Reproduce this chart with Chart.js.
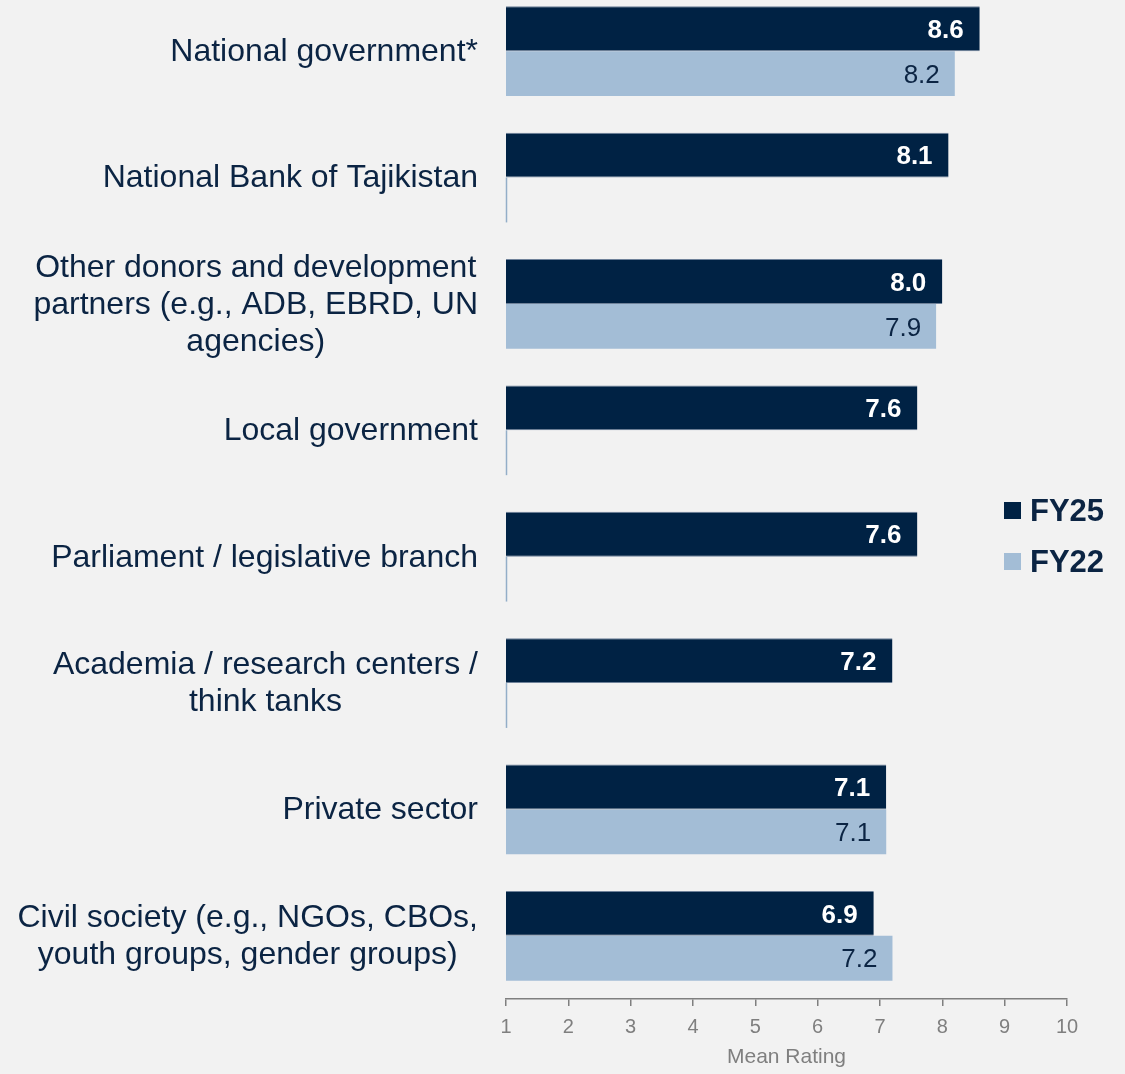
<!DOCTYPE html>
<html>
<head>
<meta charset="utf-8">
<script src="https://cdn.jsdelivr.net/npm/chart.js@4/dist/chart.umd.min.js"></script>
<style>
  html, body { margin: 0; padding: 0; background: #f2f2f2; overflow: hidden; }
  body { width: 1125px; height: 1074px; position: relative; font-family: "Liberation Sans", Arial, sans-serif; }
  #wrap { position: absolute; left: 0; top: -12px; width: 1125px; height: 1086px; }
  .legend { position: absolute; left: 1004px; color: #0b2443; font-weight: bold; font-size: 31px; line-height: 34px; white-space: nowrap; }
  .legend span { display: inline-block; width: 17px; height: 17px; margin-right: 9px; vertical-align: 2px; }
</style>
</head>
<body>
<div id="wrap"><canvas id="chart"></canvas></div>
<div class="legend" style="top:494px"><span style="background:#002244"></span>FY25</div>
<div class="legend" style="top:545px"><span style="background:#a3bdd6"></span>FY22</div>
<script>
// Mean rating by stakeholder group
const categories = [
  ['National government*'],
  ['National Bank of Tajikistan'],
  ['Other donors and development', 'partners (e.g., ADB, EBRD, UN', 'agencies)'],
  ['Local government'],
  ['Parliament / legislative branch'],
  ['Academia / research centers /', 'think tanks'],
  ['Private sector'],
  ['Civil society (e.g., NGOs, CBOs,', 'youth groups, gender groups)']
];
const fy25 = [8.6, 8.1, 8.0, 7.6, 7.6, 7.2, 7.1, 6.9];
const fy22 = [8.2, null, 7.9, null, null, null, 7.1, 7.2];
const xTicks = [1, 2, 3, 4, 5, 6, 7, 8, 9, 10];

const NAVY = '#002244';
const LIGHT = '#a3bdd6';
const TEXT = '#0b2443';
const GREY = '#7f7f7f';
const FONT = '"Liberation Sans", Arial, sans-serif';

// category names, centred per block, right edge next to the axis
const categoryLabels = {
  id: 'categoryLabels',
  afterDraw(chart) {
    const ctx = chart.ctx, y = chart.scales.y;
    ctx.save();
    ctx.font = '32px ' + FONT;
    ctx.fillStyle = TEXT;
    ctx.textAlign = 'center';
    ctx.textBaseline = 'middle';
    const lh = 37;
    categories.forEach((lines, i) => {
      const w = Math.max(...lines.map(l => ctx.measureText(l).width));
      const cx = 478 - w / 2;
      const cy = y.getPixelForValue(i) + 1;
      lines.forEach((l, k) => ctx.fillText(l, cx, cy + (k - (lines.length - 1) / 2) * lh));
    });
    ctx.restore();
  }
};

// values inside the bar ends, plus a stub where FY22 has no rating
const barValues = {
  id: 'barValues',
  afterDatasetsDraw(chart) {
    const ctx = chart.ctx, x = chart.scales.x;
    ctx.save();
    ctx.textAlign = 'right';
    ctx.textBaseline = 'middle';
    const m25 = chart.getDatasetMeta(0), m22 = chart.getDatasetMeta(1);
    m25.data.forEach((bar, i) => {
      ctx.font = 'bold 26px ' + FONT;
      ctx.fillStyle = '#ffffff';
      ctx.fillText(fy25[i].toFixed(1), bar.x - 16, bar.y + 2);
      if (fy22[i] == null) {
        const x0 = Math.round(x.getPixelForValue(x.min)) + 0.5;
        ctx.strokeStyle = '#93aec8';
        ctx.lineWidth = 1.5;
        ctx.beginPath();
        ctx.moveTo(x0, bar.y + bar.height / 2);
        ctx.lineTo(x0, bar.y + bar.height * 1.5);
        ctx.stroke();
      } else {
        const b = m22.data[i];
        ctx.font = '26px ' + FONT;
        ctx.fillStyle = TEXT;
        ctx.fillText(fy22[i].toFixed(1), b.x - 15, b.y + 2);
      }
    });
    ctx.restore();
  }
};

new Chart(document.getElementById('chart'), {
  type: 'bar',
  data: {
    labels: categories.map(c => c.join(' ')),
    datasets: [
      { label: 'FY25', data: fy25, backgroundColor: NAVY, borderColor: '#6f829a', borderWidth: { top: 1, bottom: 1, left: 0, right: 0 }, borderSkipped: 'start' },
      { label: 'FY22', data: fy22, backgroundColor: LIGHT, borderWidth: 0 }
    ]
  },
  options: {
    indexAxis: 'y',
    responsive: true,
    maintainAspectRatio: false,
    animation: false,
    categoryPercentage: 0.71,
    barPercentage: 1,
    layout: { padding: { top: 0, right: 58, bottom: 0, left: 0 } },
    plugins: { legend: { display: false }, tooltip: { enabled: false } },
    scales: {
      y: {
        ticks: { display: false },
        grid: { display: false },
        border: { display: false },
        afterFit(s) { s.width = 506; }
      },
      x: {
        min: 1,
        max: 10,
        afterBuildTicks(s) { s.ticks = xTicks.map(v => ({ value: v })); },
        afterFit(s) { s.height = 75; },
        ticks: { color: GREY, font: { size: 20, family: FONT }, padding: 9 },
        grid: { drawOnChartArea: false, drawTicks: true, tickLength: 7, color: GREY, lineWidth: 1.5 },
        border: { display: true, color: GREY, width: 1.5 },
        title: { display: true, text: 'Mean Rating', color: GREY, padding: { top: 5 }, font: { size: 21, family: FONT } }
      }
    }
  },
  plugins: [categoryLabels, barValues]
});
</script>
</body>
</html>
